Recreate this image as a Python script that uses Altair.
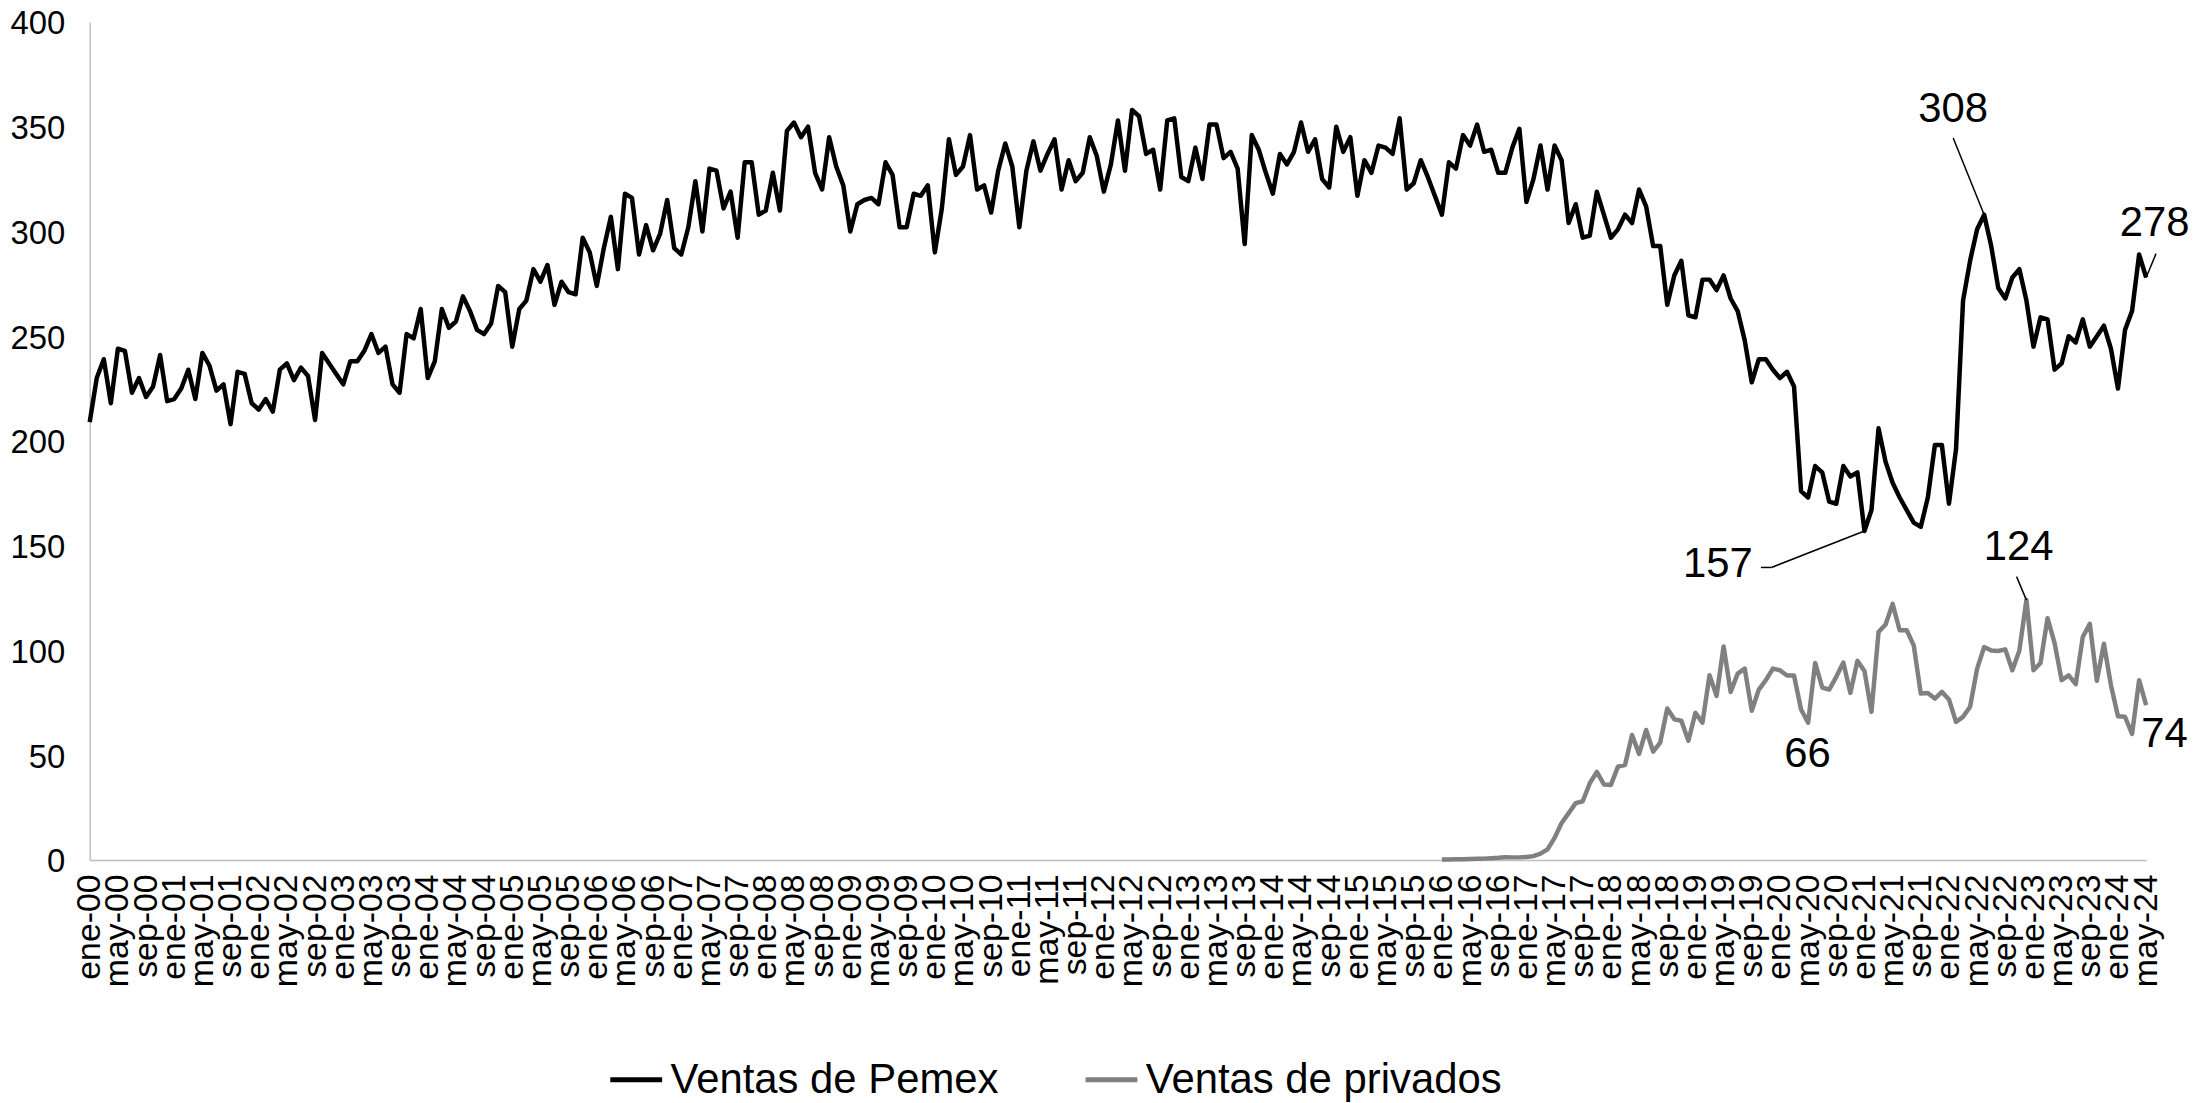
import altair as alt
import pandas as pd

# ---------------- data ----------------
meses = ["ene", "feb", "mar", "abr", "may", "jun", "jul", "ago", "sep", "oct", "nov", "dic"]
anios = list(range(0, 25))
etiquetas = [f"{m}-{a:02d}" for a in anios for m in meses][:293]  # ene-00 ... may-24

pemex = [
    209, 230, 239, 218, 244, 243, 223, 230, 221, 226, 241, 219,
    220, 225, 234, 220, 242, 236, 224, 227, 208, 233, 232, 218,
    215, 220, 214, 234, 237, 229, 235, 231, 210, 242, 237, 232,
    227, 238, 238, 243, 251, 242, 245, 227, 223, 251, 249, 263,
    230, 238, 263, 254, 257, 269, 262, 253, 251, 256, 274, 271,
    245, 263, 267, 282, 276, 284, 265, 276, 271, 270, 297, 290,
    274, 292, 307, 282, 318, 316, 289, 303, 291, 299, 315, 292,
    289, 302, 324, 300, 330, 329, 311, 319, 297, 333, 333, 308,
    310, 328, 310, 348, 352, 345, 350, 328, 320, 345, 331, 322,
    300, 313, 315, 316, 313, 333, 327, 302, 302, 318, 317, 322,
    290, 311, 344, 327, 331, 346, 320, 322, 309, 329, 342, 331,
    302, 329, 343, 329, 337, 344, 320, 334, 324, 328, 345, 336,
    319, 332, 353, 329, 358, 355, 337, 339, 320, 353, 354, 326,
    324, 340, 325, 351, 351, 335, 338, 330, 294, 346, 339, 328,
    318, 337, 332, 338, 352, 338, 344, 325, 321, 350, 338, 345,
    317, 334, 328, 341, 340, 337, 354, 320, 323, 334, 326, 317,
    308, 333, 330, 346, 341, 351, 338, 339, 328, 328, 340, 349,
    314, 325, 341, 320, 341, 334, 304, 313, 297, 298, 319, 308,
    297, 301, 308, 304, 320, 312, 293, 293, 265, 279, 286, 260,
    259, 277, 277, 272, 279, 268, 262, 248, 228, 239, 239, 234,
    230, 233, 226, 176, 173, 188, 185, 171, 170, 188, 183, 185,
    157, 167, 206, 190, 180, 173, 167, 161, 159, 173, 198, 198,
    170, 196, 267, 286, 301, 308, 293, 273, 268, 278, 282, 267,
    245, 259, 258, 234, 237, 250, 247, 258, 245, 250, 255, 244,
    225, 253, 262, 289, 278,
]

inicio_privados = 192  # ene-16
privados = [
    0.2, 0.2, 0.3, 0.3, 0.4, 0.5, 0.6, 0.8, 1.0, 1.3, 1.2, 1.2,
    1.4, 1.8, 3.0, 5.0, 10.5, 17.6, 22.3, 27.1, 28.0, 36.6, 42.0, 36.0,
    35.8, 44.5, 45.3, 59.6, 50.6, 62.0, 51.7, 56.0, 72.3, 67.1, 66.4, 56.9,
    70.2, 65.5, 88.1, 78.3, 101.9, 80.2, 88.9, 91.3, 71.2, 81.3, 85.8, 91.3,
    90.5, 88.0, 88.0, 71.8, 65.5, 94.0, 82.3, 81.3, 87.4, 94.2, 79.7, 95.0,
    90.2, 70.7, 108.8, 112.4, 122.2, 109.6, 109.6, 102.4, 79.4, 79.7, 77.0, 80.2,
    76.6, 65.9, 68.3, 73.1, 91.3, 101.6, 100.0, 99.7, 100.5, 90.5, 100.0, 124.1,
    90.5, 94.0, 115.4, 103.5, 85.8, 88.1, 83.9, 106.4, 112.7, 85.5, 103.2, 83.4,
    68.6, 68.3, 60.1, 85.8, 73.9,
]

series = ["Ventas de Pemex", "Ventas de privados"]
colores = ["#000000", "#808080"]

# annotations (month index, value, text)
anot_idx = [264.6, 231.2, 273.9, 293.2, 243.9, 294.6]
anot_val = [358.4, 141.0, 149.1, 303.8, 50.6, 60.0]
anot_txt = ["308", "157", "124", "278", "66", "74"]

# leader segments (month index / value units)
lid_x1 = [269.0, 252.0, 238.8, 275.0, 292.0]
lid_y1 = [308.0, 157.0, 139.6, 124.0, 278.0]
lid_x2 = [264.6, 238.8, 237.3, 273.6, 293.4]
lid_y2 = [344.6, 139.6, 139.6, 135.2, 289.4]

# ---------------- tables ----------------
filas = []
for i, v in enumerate(pemex):
    filas.append({"indice": i, "serie": series[0], "valor": v})
for k, v in enumerate(privados):
    filas.append({"indice": inicio_privados + k, "serie": series[1], "valor": v})
df = pd.DataFrame(filas)

df_anot = pd.DataFrame({"indice": anot_idx, "valor": anot_val, "texto": anot_txt})
df_lid = pd.DataFrame({"indice": lid_x1, "valor": lid_y1, "x2": lid_x2, "y2": lid_y2})

label_array = "[" + ",".join(f"'{e}'" for e in etiquetas) + "]"
label_expr = f"{label_array}[datum.value]"

FONT = "Liberation Sans"

x_scale = alt.Scale(domain=[0, 292], nice=False, zero=False)
y_scale = alt.Scale(domain=[0, 400], nice=False)

x_axis = alt.Axis(
    values=list(range(0, 293, 4)),
    labelExpr=label_expr,
    labelAngle=-90,
    labelFontSize=34,
    labelFont=FONT,
    labelColor="#000000",
    labelPadding=14,
    labelOverlap=False,
    labelFlush=False,
    labelBound=False,
    ticks=False,
    tickSize=0,
    grid=False,
    domainColor="#bfbfbf",
    domainWidth=1.5,
    title=None,
)
y_axis = alt.Axis(
    values=list(range(0, 401, 50)),
    labelFontSize=33,
    labelFont=FONT,
    labelColor="#000000",
    labelPadding=25,
    labelOffset=2,
    labelOverlap=False,
    ticks=False,
    tickSize=0,
    grid=False,
    domainColor="#bfbfbf",
    domainWidth=1.5,
    title=None,
)

X = alt.X("indice:Q", scale=x_scale, axis=x_axis)
Y = alt.Y("valor:Q", scale=y_scale, axis=y_axis)

lineas = alt.Chart(df).mark_line(strokeWidth=4.5, strokeJoin="round").encode(
    x=X,
    y=Y,
    color=alt.Color(
        "serie:N",
        scale=alt.Scale(domain=series, range=colores),
        legend=alt.Legend(
            orient="none",
            legendX=520,
            legendY=1033,
            direction="horizontal",
            title=None,
            symbolType="stroke",
            symbolSize=2704,
            symbolStrokeWidth=5,
            labelFontSize=42,
            labelFont=FONT,
            labelColor="#000000",
            labelOffset=6,
            columnPadding=76,
            labelLimit=600,
        ),
    ),
)

lideres = alt.Chart(df_lid).mark_rule(color="#000000", strokeWidth=1.5).encode(
    x=X,
    y=Y,
    x2="x2:Q",
    y2="y2:Q",
)

textos = alt.Chart(df_anot).mark_text(
    font=FONT, fontSize=42, color="#000000", align="center", baseline="middle"
).encode(
    x=X,
    y=Y,
    text="texto:N",
)

chart = (
    alt.layer(lineas, lideres, textos)
    .properties(
        width=2064,
        height=841,
        padding={"left": 82, "top": 12, "right": 43, "bottom": 242},
        autosize=alt.AutoSizeParams(type="none"),
        background="#ffffff",
    )
    .configure_view(stroke=None)
    .configure_axis(labelOverlap=False)
)

chart.save("out.html", embed_options={"renderer": "svg", "actions": False})
